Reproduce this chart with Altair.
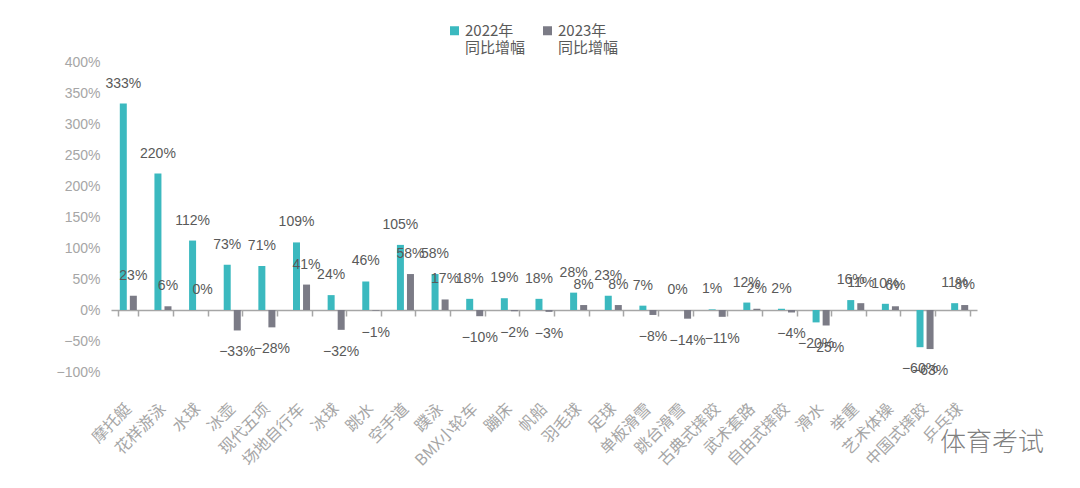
import altair as alt
import pandas as pd

categories = ["摩托艇", "花样游泳", "水球", "冰壶", "现代五项", "场地自行车", "冰球", "跳水",
              "空手道", "蹼泳", "BMX小轮车", "蹦床", "帆船", "羽毛球", "足球", "单板滑雪",
              "跳台滑雪", "古典式摔跤", "武术套路", "自由式摔跤", "滑水", "举重", "艺术体操",
              "中国式摔跤", "乒乓球"]
v2022 = [333, 220, 112, 73, 71, 109, 24, 46, 105, 58, 18, 19, 18, 28, 23, 7, 0, 1, 12, 2,
         -20, 16, 10, -60, 11]
v2023 = [23, 6, 0, -33, -28, 41, -32, -1, 58, 17, -10, -2, -3, 8, 8, -8, -14, -11, 2, -4,
         -25, 11, 6, -63, 8]
series = ["2022年|同比增幅", "2023年|同比增幅"]
colors = ["#3BB9BF", "#7B7B86"]
y_ticks = [-100, -50, 0, 50, 100, 150, 200, 250, 300, 350, 400]

rows = []
for i, c in enumerate(categories):
    for s, vals in zip(series, [v2022, v2023]):
        v = vals[i]
        lab = ("−" + str(abs(v)) if v < 0 else str(v)) + "%"
        rows.append({"cat": c, "series": s, "value": v, "label": lab})
df = pd.DataFrame(rows)

xenc = alt.X("cat:N", sort=categories,
             scale=alt.Scale(paddingInner=0.42, paddingOuter=0.21),
             axis=alt.Axis(title=None, offset=-62, tickBand="extent", tickSize=6,
                           domainColor="#A6A6A6", tickColor="#A6A6A6", domainWidth=1.5,
                           tickWidth=1.5, labelAngle=315, labelAlign="right",
                           labelBaseline="middle", labelPadding=90, labelColor="#A6A6A6",
                           labelFontSize=16, labelFont="Noto Sans CJK SC", grid=False,
                           labelLimit=200, labelOverlap=False))
xoff = alt.XOffset("series:N", sort=series, scale=alt.Scale(paddingInner=0, paddingOuter=0))
yenc = alt.Y("value:Q", scale=alt.Scale(domain=[-100, 400], nice=False, zero=False),
             axis=alt.Axis(title=None, values=y_ticks, tickCount=11, domain=False,
                           ticks=False, tickSize=0, grid=False,
                           labelExpr="format(datum.value, 'd') + '%'",
                           labelColor="#A6A6A6", labelFontSize=14, labelFont="Liberation Sans",
                           labelPadding=11, labelOverlap=False, labelBound=False))

bars = alt.Chart(df).mark_bar(size=7).encode(
    x=xenc, xOffset=xoff, y=yenc,
    color=alt.Color("series:N", sort=series,
                    scale=alt.Scale(domain=series, range=colors),
                    legend=alt.Legend(title=None, orient="none", legendX=336, legendY=-39,
                                      direction="horizontal", padding=0,
                                      labelExpr="split(datum.label, '|')",
                                      labelFontSize=15, labelColor="#595959",
                                      labelFont="Noto Sans CJK SC", labelBaseline="middle",
                                      labelOffset=3, columnPadding=14, labelLimit=200,
                                      symbolType="square", symbolSize=81,
                                      symbolStrokeWidth=0)),
)

pos = alt.Chart(df).transform_filter("datum.value >= 0").mark_text(
    dy=-20, fontSize=14, color="#595959", font="Liberation Sans").encode(
    x=xenc, xOffset=xoff, y=yenc, text="label:N")
neg = alt.Chart(df).transform_filter("datum.value < 0").mark_text(
    dy=22, fontSize=14, color="#595959", font="Liberation Sans").encode(
    x=xenc, xOffset=xoff, y=yenc, text="label:N")

wm = alt.Chart(pd.DataFrame({"t": ["体育考试"]})).mark_text(
    align="left", baseline="middle", fontSize=26, color="#808080",
    font="Noto Sans CJK SC", fontWeight=300).encode(
    x=alt.value(829), y=alt.value(381), text="t:N")

chart = alt.layer(bars, pos, neg, wm).properties(
    width=866, height=310,
    autosize=alt.AutoSizeParams(type="none"),
    padding={"left": 103, "top": 54, "right": 95, "bottom": 98},
).configure_view(stroke=None)

chart.save("out.html", embed_options={"renderer": "svg", "actions": False})
